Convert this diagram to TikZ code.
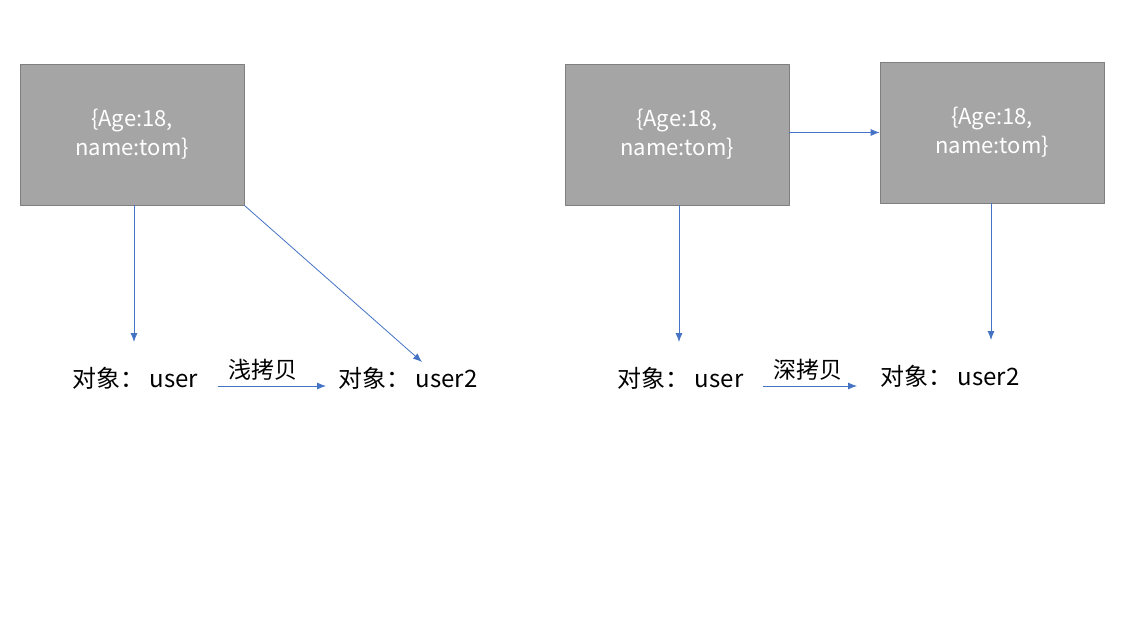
\documentclass[tikz,border=0pt]{standalone}
\usepackage{fontspec}
\setmainfont{Noto Sans CJK SC}
\usetikzlibrary{arrows.meta}
\definecolor{boxfill}{HTML}{A5A5A5}
\definecolor{boxline}{HTML}{7F7F7F}
\definecolor{linkblue}{HTML}{4472C4}
\tikzset{
  obj/.style={draw=boxline, fill=boxfill, line width=0.8pt, minimum width=224pt,
    minimum height=141pt, text=white, align=center, font=\fontsize{22}{29}\selectfont},
  lbl/.style={inner sep=0pt, font=\fontsize{24}{28}\selectfont},
  cpy/.style={inner sep=0pt, font=\fontsize{23}{27}\selectfont},
  link/.style={-{Latex[length=9pt,width=7pt]}, draw=linkblue, line width=0.8pt}
}
\begin{document}
\begin{tikzpicture}[x=1pt, y=-1pt, line join=round]
	\useasboundingbox (0,0) rectangle (1121,644);
	% shallow copy
	\node[obj] (A) at (132,134.5) {\{Age:18,\\name:tom\}};
	\node[lbl] (U) at (135,378) {对象：\ user};
	\node[lbl] (V) at (408,378) {对象：\ user2};
	\node[cpy] (S) at (263,370) {浅拷贝};
	% deep copy
	\node[obj] (B) at (677,134.5) {\{Age:18,\\name:tom\}};
	\node[obj] (C) at (992,132.5) {\{Age:18,\\name:tom\}};
	\node[lbl] (U') at (680.5,378) {对象：\ user};
	\node[lbl] (V') at (950,376) {对象：\ user2};
	\node[cpy] (S') at (808,370) {深拷贝};
	\path
	(134,342) coordinate (a)
	(422,362) coordinate (b)
	(218,386) coordinate (s)
	(326,386) coordinate (t)
	(679,342) coordinate (a')
	(991,340) coordinate (b')
	(763,386) coordinate (s')
	(857,386) coordinate (t');
	\draw[link] (A.south -| a) -- (a);
	\draw[link] (A.south east) -- (b);
	\draw[link] (s) -- (t);
	\draw[link] (B.south -| a') -- (a');
	\draw[link] (B.east |- C.west) -- (C.west);
	\draw[link] (C.south -| b') -- (b');
	\draw[link] (s') -- (t');
\end{tikzpicture}
\end{document}
